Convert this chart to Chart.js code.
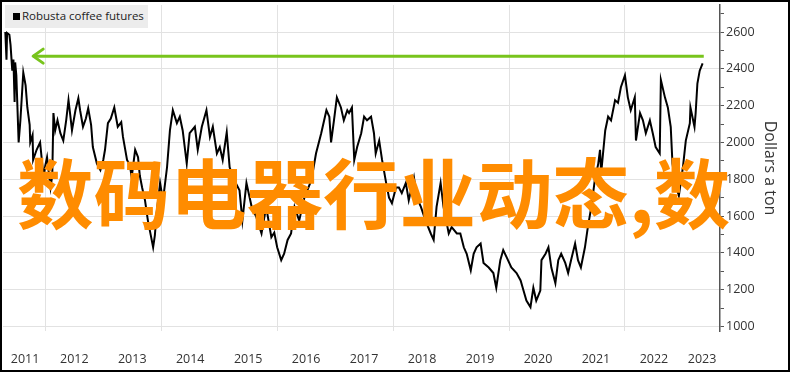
<!DOCTYPE html>
<html>
<head>
<meta charset="utf-8">
<script src="https://cdn.jsdelivr.net/npm/chart.js@4.4.0/dist/chart.umd.min.js"></script>
<style>
  html, body { margin: 0; padding: 0; background: #fff; }
  #frame { position: relative; width: 790px; height: 372px; box-sizing: border-box; border: 2px solid #000; background: #fff; overflow: hidden; }
  #legend { position: absolute; left: 3px; top: 3px; width: 143px; height: 23px; background: #ececec; font-family: 'Open Sans', sans-serif; font-size: 11.5px; color: #222; }
  #legend .swatch { position: absolute; left: 8px; top: 8px; width: 7px; height: 7px; background: #000; }
  #legend .label { position: absolute; left: 17px; top: 3px; white-space: nowrap; }
  #overlay { position: absolute; left: 15px; top: 149px; font-family: 'Noto Sans CJK SC', sans-serif; font-weight: 700; font-size: 76.5px; line-height: 77px; color: #ff8c00; white-space: nowrap; }
</style>
</head>
<body>
<div id="frame">
  <canvas id="coffeeChart" width="786" height="368"></canvas>
  <div id="legend"><span class="swatch"></span><span class="label">Robusta coffee futures</span></div>
  <div id="overlay">数码电器行业动态,数</div>
</div>
<script>
const seriesName = 'Robusta coffee futures'
const axisTitle = 'Dollars a ton'

// decimal years
const priceYears = [
  2011.31, 2011.33, 2011.34, 2011.38, 2011.40, 2011.43, 2011.45, 2011.47, 2011.48, 2011.50,
  2011.54, 2011.57, 2011.62, 2011.66, 2011.69, 2011.73, 2011.74, 2011.78, 2011.79, 2011.85,
  2011.91, 2011.97, 2012.00, 2012.03, 2012.09, 2012.12, 2012.14, 2012.17, 2012.21, 2012.26,
  2012.31, 2012.36, 2012.40, 2012.43, 2012.46, 2012.52, 2012.57, 2012.60, 2012.65, 2012.70,
  2012.74, 2012.79, 2012.82, 2012.89, 2012.95, 2013.00, 2013.03, 2013.08, 2013.13, 2013.19,
  2013.25, 2013.31, 2013.34, 2013.41, 2013.46, 2013.49, 2013.55, 2013.60, 2013.63, 2013.67,
  2013.72, 2013.77, 2013.82, 2013.86, 2013.89, 2013.92, 2013.98, 2014.03, 2014.10, 2014.15,
  2014.20, 2014.27, 2014.32, 2014.37, 2014.44, 2014.49, 2014.58, 2014.63, 2014.70, 2014.78,
  2014.84, 2014.89, 2014.96, 2015.01, 2015.06, 2015.13, 2015.18, 2015.26, 2015.35, 2015.40,
  2015.47, 2015.56, 2015.64, 2015.73, 2015.81, 2015.90, 2015.95, 2016.00, 2016.07, 2016.12,
  2016.18, 2016.24, 2016.30, 2016.38, 2016.47, 2016.59, 2016.67, 2016.76, 2016.85, 2016.90,
  2016.93, 2016.98, 2017.03, 2017.10, 2017.15, 2017.21, 2017.24, 2017.29, 2017.33, 2017.38,
  2017.45, 2017.50, 2017.55, 2017.62, 2017.67, 2017.70, 2017.76, 2017.81, 2017.88, 2017.93,
  2017.98, 2018.05, 2018.10, 2018.15, 2018.22, 2018.27, 2018.36, 2018.41, 2018.48, 2018.56,
  2018.65, 2018.70, 2018.75, 2018.82, 2018.87, 2018.96, 2019.01, 2019.10, 2019.16, 2019.22,
  2019.27, 2019.34, 2019.39, 2019.44, 2019.51, 2019.56, 2019.65, 2019.73, 2019.78, 2019.85,
  2019.90, 2019.96, 2020.04, 2020.13, 2020.20, 2020.25, 2020.30, 2020.37, 2020.42, 2020.47,
  2020.54, 2020.56, 2020.63, 2020.68, 2020.73, 2020.80, 2020.85, 2020.90, 2020.97, 2021.02,
  2021.07, 2021.14, 2021.19, 2021.24, 2021.31, 2021.36, 2021.42, 2021.48, 2021.54, 2021.57,
  2021.59, 2021.66, 2021.71, 2021.76, 2021.83, 2021.88, 2021.93, 2022.00, 2022.05, 2022.10,
  2022.17, 2022.19, 2022.26, 2022.31, 2022.36, 2022.43, 2022.48, 2022.53, 2022.60, 2022.62,
  2022.69, 2022.74, 2022.79, 2022.82, 2022.88, 2022.93, 2023.00, 2023.05, 2023.12, 2023.13,
  2023.20, 2023.22, 2023.25, 2023.29, 2023.34
]

const prices = [
  2600, 2450, 2595, 2585, 2530, 2390, 2450, 2220, 2435, 2365,
  2000, 2120, 2380, 2310, 2190, 2095, 2000, 2040, 1905, 1960,
  2000, 1810, 1875, 1920, 1755, 1820, 2160, 2065, 2120, 2050,
  2010, 2120, 2230, 2150, 2065, 2175, 2240, 2175, 2085, 2130,
  2185, 2095, 1975, 1885, 1850, 1905, 1960, 2105, 2130, 2190,
  2085, 2110, 2030, 1905, 1875, 1810, 1960, 1920, 1820, 1755,
  1685, 1575, 1495, 1430, 1495, 1615, 1780, 1685, 1865, 2065,
  2175, 2105, 2140, 2065, 1885, 2050, 2085, 1960, 2085, 2175,
  2030, 2085, 1940, 1975, 1905, 2055, 1865, 1795, 1740, 1575,
  1780, 1650, 1595, 1505, 1650, 1485, 1510, 1430, 1360, 1395,
  1470, 1505, 1650, 1575, 1700, 1795, 1940, 2050, 2175, 2140,
  2000, 2120, 2245, 2190, 2120, 2175, 2160, 2190, 1905, 1975,
  2050, 2140, 2120, 2140, 2050, 1940, 2010, 1905, 1780, 1700,
  1670, 1755, 1755, 1725, 1780, 1685, 1810, 1700, 1650, 1575,
  1505, 1470, 1650, 1780, 1650, 1505, 1540, 1505, 1505, 1430,
  1395, 1305, 1395, 1430, 1450, 1345, 1320, 1290, 1210, 1360,
  1415, 1375, 1320, 1290, 1250, 1195, 1140, 1105, 1210, 1140,
  1195, 1360, 1395, 1430, 1320, 1235, 1360, 1395, 1345, 1290,
  1360, 1450, 1360, 1320, 1430, 1540, 1650, 1795, 1885, 1960,
  1835, 2065, 2140, 2120, 2230, 2215, 2300, 2365, 2245, 2175,
  2245, 2010, 2160, 2120, 2050, 2120, 2050, 1975, 1940, 2340,
  2245, 2190, 2085, 1885, 1765, 1710, 1865, 2010, 2105, 2190,
  2085, 2160, 2320, 2390, 2430
]

const arrowYears = [2011.79, 2023.36]
const arrowLevel = [2469, 2469]

const gridYears = [2012, 2014, 2016, 2018, 2020, 2022]
const labelYears = [2011.65, 2012.5, 2013.5, 2014.5, 2015.5, 2016.5, 2017.5, 2018.5, 2019.5, 2020.5, 2021.5, 2022.5, 2023.33]
const yTicks = [1000, 1200, 1400, 1600, 1800, 2000, 2200, 2400, 2600]
const yMinorTicks = [1100, 1300, 1500, 1700, 1900, 2100, 2300, 2500, 2700]

const gridColor = '#e2e2e2'
const clear = 'rgba(0,0,0,0)'
const arrowColor = '#78c41c'
const tickFont = { family: "'Open Sans', sans-serif", size: 12.5 }
const hiddenFont = { family: "'Open Sans', sans-serif", size: 1 }

const arrowHead = {
    id: 'arrowHead',
    afterDatasetsDraw(chart) {
        const tip = chart.getDatasetMeta(1).data[0]
        const ctx = chart.ctx
        ctx.save()
        ctx.strokeStyle = arrowColor
        ctx.lineWidth = 3
        ctx.lineCap = 'round'
        ctx.lineJoin = 'round'
        ctx.beginPath()
        ctx.moveTo(tip.x + 10, tip.y - 7)
        ctx.lineTo(tip.x, tip.y)
        ctx.lineTo(tip.x + 10, tip.y + 7)
        ctx.stroke()
        ctx.restore()
    }
}

const ctx = document.getElementById('coffeeChart').getContext('2d')
const coffeeChart = new Chart(ctx, {
    type: 'line',
    data: {
        datasets: [{
            label: seriesName,
            data: priceYears.map((t, i) => ({ x: t, y: prices[i] })),
            borderColor: '#000',
            borderWidth: 2,
            pointRadius: 0,
            tension: 0
        }, {
            label: 'arrow',
            data: arrowYears.map((t, i) => ({ x: t, y: arrowLevel[i] })),
            borderColor: arrowColor,
            borderWidth: 3,
            pointRadius: 0
        }]
    },
    options: {
        responsive: false,
        animation: false,
        devicePixelRatio: 1,
        layout: { padding: { top: 3, left: 1, right: 0, bottom: 0 } },
        plugins: {
            legend: { display: false },
            tooltip: { enabled: false }
        },
        scales: {
            x: {
                type: 'linear',
                min: 2011.27,
                max: 2023.64,
                afterBuildTicks: (scale) => {
                    // empty edge ticks keep the first/last labels from padding the chart area
                    const all = [scale.min, scale.max].concat(gridYears, labelYears)
                    scale.ticks = all.sort((a, b) => a - b).map(v => ({ value: v }))
                },
                ticks: {
                    autoSkip: false,
                    maxRotation: 0,
                    padding: 0,
                    color: '#333',
                    font: (c) => c.tick && labelYears.includes(c.tick.value) ? tickFont : hiddenFont,
                    callback: (v) => labelYears.includes(v) ? String(Math.floor(v)) : ''
                },
                grid: {
                    color: (c) => c.tick && gridYears.includes(c.tick.value) ? gridColor : clear,
                    tickColor: clear,
                    tickLength: 21
                },
                border: { display: false },
                afterFit: (scale) => { scale.height = 39 }
            },
            y: {
                position: 'right',
                min: 975,
                max: 2747,
                afterBuildTicks: (scale) => {
                    scale.ticks = yTicks.concat(yMinorTicks).sort((a, b) => a - b).map(v => ({ value: v }))
                },
                ticks: {
                    autoSkip: false,
                    padding: 2,
                    color: '#333',
                    font: (c) => c.tick && yTicks.includes(c.tick.value) ? tickFont : hiddenFont,
                    callback: (v) => yTicks.includes(v) ? String(v) : ''
                },
                grid: {
                    color: (c) => c.tick && yTicks.includes(c.tick.value) ? gridColor : clear,
                    tickColor: '#555',
                    tickLength: 4
                },
                border: { display: true, color: '#555', width: 1.5 },
                title: {
                    display: true,
                    text: axisTitle,
                    color: '#333',
                    font: { family: "'Open Sans', sans-serif", size: 16 },
                    padding: { top: 9, bottom: 0 }
                },
                afterFit: (scale) => { scale.width = 68 }
            }
        }
    },
    plugins: [arrowHead]
})
</script>
</body>
</html>
